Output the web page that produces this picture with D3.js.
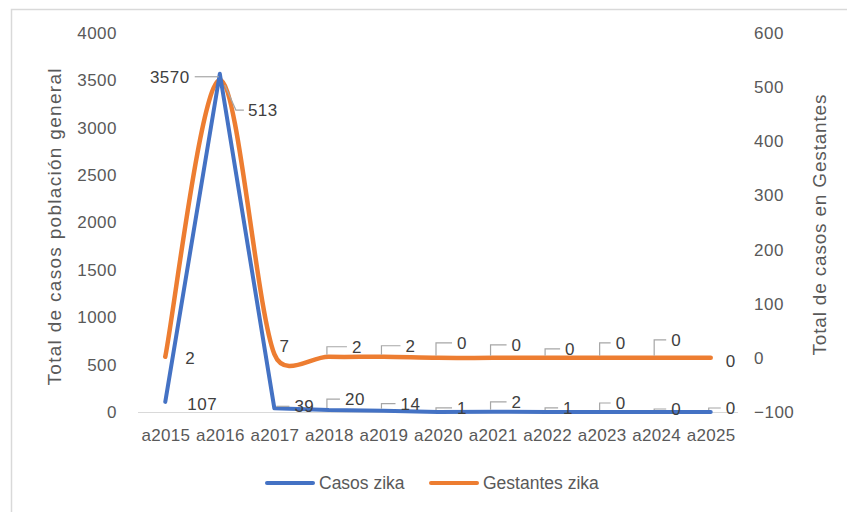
<!DOCTYPE html>
<html>
	<head>
		<meta charset="utf-8">
		<title>zika</title>
		<script type="text/javascript" src="https://cdn.jsdelivr.net/npm/d3@7"></script>
		<style>
			body{margin:0;background:#fff;}
			text{font-family:'Liberation Sans',Arial,sans-serif;}
		</style>
	</head>
	<body>
		<script type="text/javascript">
			var years=['a2015','a2016','a2017','a2018','a2019','a2020','a2021','a2022','a2023','a2024','a2025'];
			var casosZika=[107,3570,39,20,14,1,2,1,0,0,0];
			var gestantesZika=[2,513,7,2,2,0,0,0,0,0,0];
			var leftTicks=[0,500,1000,1500,2000,2500,3000,3500,4000];
			var rightTicks=[-100,0,100,200,300,400,500,600];

			// label placement (offset from point) and leader kind
			var casosLabelDx=[37,-50,30,26,27,24,24,21,19,20,20];
			var casosLabelDy=[2,3,-2,-11,-7,-4,-10,-4,-9,-3,-4];
			var casosLeader=['none','left','right','elbow','elbow','elbow','elbow','elbow','elbow','elbow','elbow'];
			var gestLabelDx=[25,43,10,28,27,24,24,23,19,20,20];
			var gestLabelDy=[1,30,-8,-10,-11,-15,-13,-9,-15,-18,3];
			var gestLeader=['none','diag','none','elbow','elbow','elbow','elbow','elbow','elbow','elbow','none'];

			var w=847;
			var h=512;

			var svg=d3.select('body').append('svg')
					  .attr('width',w)
					  .attr('height',h);

			// chart border (cut by the picture edges)
			svg.append('path')
			   .attr('d','M11.5,'+h+' V9.5 H'+w)
			   .attr('fill','none')
			   .attr('stroke','#d9d9d9')
			   .attr('stroke-width',1.5);

			var xScale=d3.scalePoint()
						 .domain(years)
						 .range([138,738])
						 .padding(0.5);

			var yLeft=d3.scaleLinear()
						.domain([0,4000])
						.range([412,33]);

			var yRight=d3.scaleLinear()
						 .domain([-100,600])
						 .range([412,33]);

			// base line
			svg.append('line')
			   .attr('x1',138)
			   .attr('x2',738)
			   .attr('y1',yLeft(0)+0.5)
			   .attr('y2',yLeft(0)+0.5)
			   .attr('stroke','#d9d9d9')
			   .attr('stroke-width',1);

			var leftAxis=d3.axisLeft(yLeft).tickValues(leftTicks).tickFormat(d3.format('d')).tickSize(0).tickPadding(0);
			var gL=svg.append('g').attr('transform','translate(117,0)').call(leftAxis);
			gL.select('.domain').remove();
			gL.selectAll('text')
			  .attr('font-size','17px')
			  .attr('letter-spacing','0.5px')
			  .attr('fill','#595959')
			  .attr('font-family','Liberation Sans, Arial, sans-serif');

			var rightAxis=d3.axisRight(yRight).tickValues(rightTicks).tickFormat(d3.format('d')).tickSize(0).tickPadding(0);
			var gR=svg.append('g').attr('transform','translate(754,0)').call(rightAxis);
			gR.select('.domain').remove();
			gR.selectAll('text')
			  .attr('font-size','17px')
			  .attr('letter-spacing','0.5px')
			  .attr('fill','#595959')
			  .attr('font-family','Liberation Sans, Arial, sans-serif');

			var bottomAxis=d3.axisBottom(xScale).tickSize(0).tickPadding(0);
			var gB=svg.append('g').attr('transform','translate(0,429)').call(bottomAxis);
			gB.select('.domain').remove();
			gB.selectAll('text')
			  .attr('font-size','17px')
			  .attr('letter-spacing','0.3px')
			  .attr('fill','#595959')
			  .attr('font-family','Liberation Sans, Arial, sans-serif');

			// axis titles
			svg.append('text')
			   .text('Total de casos población general')
			   .attr('transform','translate(61,227) rotate(-90)')
			   .attr('text-anchor','middle')
			   .attr('font-size','19px')
			   .attr('textLength',317)
			   .attr('lengthAdjust','spacing')
			   .attr('fill','#595959');

			svg.append('text')
			   .text('Total de casos en Gestantes')
			   .attr('transform','translate(826,225) rotate(-90)')
			   .attr('text-anchor','middle')
			   .attr('font-size','19px')
			   .attr('textLength',261)
			   .attr('lengthAdjust','spacing')
			   .attr('fill','#595959');

			var casosLine=d3.line()
							.x(function(d,i){return xScale(years[i]);})
							.y(function(d){return yLeft(d);});

			// smoothed line like the spreadsheet: bezier arms of 1/6, capped at half the segment
			function smoothPath(values,scale){
				var pts=values.map(function(v,i){return [xScale(years[i]),scale(v)];});
				var p=d3.path();
				p.moveTo(pts[0][0],pts[0][1]);
				function arm(a,b,seg){
					var tx=(b[0]-a[0])/6, ty=(b[1]-a[1])/6;
					var len=Math.sqrt(tx*tx+ty*ty);
					var cap=seg*0.5;
					if(len>cap){tx=tx*cap/len;ty=ty*cap/len;}
					return [tx,ty];
				}
				for(var i=0;i<pts.length-1;i++){
					var p0=pts[i-1]||pts[i], p1=pts[i], p2=pts[i+1], p3=pts[i+2]||pts[i+1];
					var seg=Math.sqrt(Math.pow(p2[0]-p1[0],2)+Math.pow(p2[1]-p1[1],2));
					var t1=arm(p0,p2,seg), t2=arm(p1,p3,seg);
					p.bezierCurveTo(p1[0]+t1[0],p1[1]+t1[1],p2[0]-t2[0],p2[1]-t2[1],p2[0],p2[1]);
				}
				return p.toString();
			}

			svg.append('path')
			   .attr('d',smoothPath(gestantesZika,yRight))
			   .attr('fill','none')
			   .attr('stroke','#ED7D31')
			   .attr('stroke-width',4.5)
			   .attr('stroke-linecap','round');

			svg.append('path')
			   .attr('d',casosLine(casosZika))
			   .attr('fill','none')
			   .attr('stroke','#4472C4')
			   .attr('stroke-width',4)
			   .attr('stroke-linecap','round')
			   .attr('stroke-linejoin','round');

			function drawLabels(values,scale,dxs,dys,kinds){
				values.forEach(function(v,i){
					var px=xScale(years[i]);
					var py=scale(v);
					var lx=px+dxs[i];
					var ly=py+dys[i];
					var t=svg.append('text')
							 .text(v)
							 .attr('x',lx)
							 .attr('y',ly)
							 .attr('dy','0.35em')
							 .attr('text-anchor','middle')
							 .attr('font-size','17px')
							 .attr('letter-spacing','0.5px')
							 .attr('fill','#404040');
					var bw=t.node().getComputedTextLength();
					var d=null;
					if(kinds[i]=='elbow'){
						d='M'+(px-2)+','+(py-2)+' V'+ly+' H'+(lx-bw/2-5);
					}else if(kinds[i]=='left'){
						d='M'+(lx+bw/2+5)+','+ly+' H'+(px-1);
					}else if(kinds[i]=='right'){
						d='M'+(px+2)+','+ly+' H'+(lx-bw/2-5);
					}else if(kinds[i]=='diag'){
						d='M'+(px+5)+','+(py+5)+' L'+(lx-bw/2-12)+','+ly+' H'+(lx-bw/2-4);
					}
					if(d){
						svg.append('path')
						   .attr('d',d)
						   .attr('fill','none')
						   .attr('stroke','#a6a6a6')
						   .attr('stroke-width',1.2);
					}
				});
			}

			drawLabels(casosZika,yLeft,casosLabelDx,casosLabelDy,casosLeader);
			drawLabels(gestantesZika,yRight,gestLabelDx,gestLabelDy,gestLeader);

			// legend
			var legend=[{name:'Casos zika',color:'#4472C4',x:267},
						{name:'Gestantes zika',color:'#ED7D31',x:431}];
			var lg=svg.selectAll('.lg')
					  .data(legend)
					  .enter()
					  .append('g')
					  .attr('class','lg');
			lg.append('line')
			  .attr('x1',function(d){return d.x;})
			  .attr('x2',function(d){return d.x+46;})
			  .attr('y1',483)
			  .attr('y2',483)
			  .attr('stroke',function(d){return d.color;})
			  .attr('stroke-width',4)
			  .attr('stroke-linecap','round');
			lg.append('text')
			  .text(function(d){return d.name;})
			  .attr('x',function(d){return d.x+52;})
			  .attr('y',483)
			  .attr('dy','0.35em')
			  .attr('font-size','17.5px')
			  .attr('fill','#595959');
		</script>
	</body>
</html>
